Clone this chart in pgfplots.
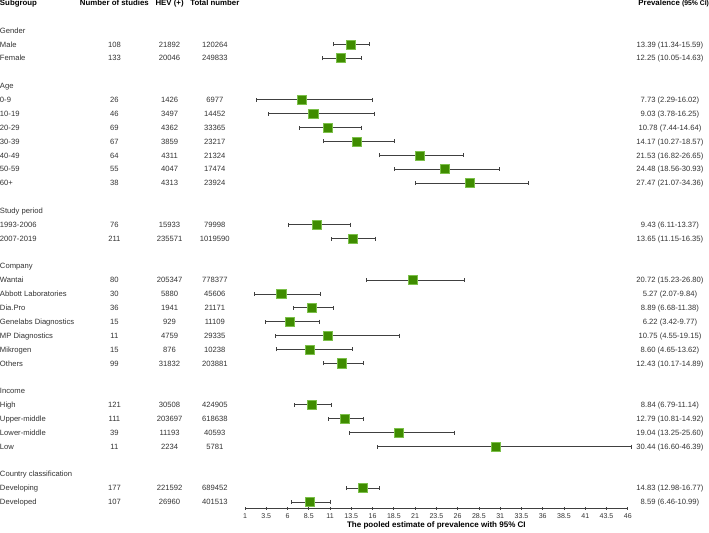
\documentclass[border=0pt]{standalone}
\usepackage{fontspec}
\setmainfont{Liberation Sans}
\usepackage{pgfplots}
\pgfplotsset{compat=1.18}
\usepackage{pgfplotstable}

\definecolor{sqfill}{HTML}{3F8C00}
\definecolor{sqedge}{HTML}{7CC04A}
\definecolor{txt}{HTML}{333333}
\definecolor{bar}{HTML}{404040}
\newcommand\tf{\fontsize{7.6}{9}\selectfont}

% group headings
\pgfplotstableread{
row name
2 Gender
6 Age
15 {Study period}
19 Company
28 Income
34 {Country classification}
}\groups

% subgroups: studies, HEV(+), total, prevalence and 95% CI
\pgfplotstableread{
row name n hev total est lo hi ci
3 Male 108 21892 120264 13.39 11.34 15.59 {13.39 (11.34-15.59)}
4 Female 133 20046 249833 12.25 10.05 14.63 {12.25 (10.05-14.63)}
7 0-9 26 1426 6977 7.73 2.29 16.02 {7.73 (2.29-16.02)}
8 10-19 46 3497 14452 9.03 3.78 16.25 {9.03 (3.78-16.25)}
9 20-29 69 4362 33365 10.78 7.44 14.64 {10.78 (7.44-14.64)}
10 30-39 67 3859 23217 14.17 10.27 18.57 {14.17 (10.27-18.57)}
11 40-49 64 4311 21324 21.53 16.82 26.65 {21.53 (16.82-26.65)}
12 50-59 55 4047 17474 24.48 18.56 30.93 {24.48 (18.56-30.93)}
13 60+ 38 4313 23924 27.47 21.07 34.36 {27.47 (21.07-34.36)}
16 1993-2006 76 15933 79998 9.43 6.11 13.37 {9.43 (6.11-13.37)}
17 2007-2019 211 235571 1019590 13.65 11.15 16.35 {13.65 (11.15-16.35)}
20 Wantai 80 205347 778377 20.72 15.23 26.80 {20.72 (15.23-26.80)}
21 {Abbott Laboratories} 30 5880 45606 5.27 2.07 9.84 {5.27 (2.07-9.84)}
22 Dia.Pro 36 1941 21171 8.89 6.68 11.38 {8.89 (6.68-11.38)}
23 {Genelabs Diagnostics} 15 929 11109 6.22 3.42 9.77 {6.22 (3.42-9.77)}
24 {MP Diagnostics} 11 4759 29335 10.75 4.55 19.15 {10.75 (4.55-19.15)}
25 Mikrogen 15 876 10238 8.60 4.65 13.62 {8.60 (4.65-13.62)}
26 Others 99 31832 203881 12.43 10.17 14.89 {12.43 (10.17-14.89)}
29 High 121 30508 424905 8.84 6.79 11.14 {8.84 (6.79-11.14)}
30 Upper-middle 111 203697 618638 12.79 10.81 14.92 {12.79 (10.81-14.92)}
31 Lower-middle 39 11193 40593 19.04 13.25 25.60 {19.04 (13.25-25.60)}
32 Low 11 2234 5781 30.44 16.60 46.39 {30.44 (16.60-46.39)}
35 Developing 177 221592 689452 14.83 12.98 16.77 {14.83 (12.98-16.77)}
36 Developed 107 26960 401513 8.59 6.46 10.99 {8.59 (6.46-10.99)}
}\subgroups

\pgfplotsset{
  txtcol/.style={only marks, mark=none, point meta=explicit symbolic,
    nodes near coords,
    every node near coord/.append style={font=\tf, text=txt, anchor=#1,
      inner sep=0pt, text height=5.4pt, text depth=0pt}},
}

\begin{document}
\begin{tikzpicture}
\begin{axis}[
  scale only axis, width=381pt, height=503pt,
  xmin=1, xmax=46, ymin=0, ymax=36.45, y dir=reverse,
  clip=false, hide y axis, axis x line*=bottom,
  x axis line style={draw=bar, line width=0.8pt, -},
  xtick={1,3.5,6,8.5,11,13.5,16,18.5,21,23.5,26,28.5,31,33.5,36,38.5,41,43.5,46},
  tick align=center, major tick length=3pt,
  every tick/.style={draw=bar, line width=0.8pt},
  tick label style={font=\fontsize{7}{8}\selectfont, text=txt},
  /pgf/number format/assume math mode=true,
  xlabel={The pooled estimate of prevalence with 95\% CI},
  xlabel style={font=\fontsize{8}{9}\selectfont\bfseries, yshift=3pt},
]
% confidence intervals
\addplot[only marks, mark=none, color=bar,
  error bars/.cd, x dir=both, x explicit, error mark=|,
  error bar style={line width=0.9pt, bar},
  error mark options={line width=0.8pt, bar, mark size=2pt}]
  table[x=est, y=row,
    x error plus expr=\thisrow{hi}-\thisrow{est},
    x error minus expr=\thisrow{est}-\thisrow{lo}] {\subgroups};
% point estimates
\addplot[only marks, mark=square*, mark size=4.5pt,
  mark options={fill=sqfill, draw=sqedge, line width=0.6pt}]
  table[x=est, y=row] {\subgroups};

% text columns
\addplot[txtcol=west] table[x expr=-27.82, y=row, meta=name] {\groups};
\addplot[txtcol=west] table[x expr=-27.82, y=row, meta=name] {\subgroups};
\addplot[txtcol=center] table[x expr=-14.35, y=row, meta=n] {\subgroups};
\addplot[txtcol=center] table[x expr=-7.86, y=row, meta=hev] {\subgroups};
\addplot[txtcol=center] table[x expr=-2.54, y=row, meta=total] {\subgroups};
\addplot[txtcol=center] table[x expr=50.96, y=row, meta=ci] {\subgroups};

% header row
\begin{scope}[every node/.style={font=\fontsize{7.8}{9}\selectfont\bfseries,
    inner sep=0pt, text height=5.6pt, text depth=0pt}]
\node[anchor=west] at (axis cs:-27.82,0) {Subgroup};
\node at (axis cs:-14.35,0) {Number of studies};
\node at (axis cs:-7.86,0) {HEV (+)};
\node at (axis cs:-2.54,0) {Total number};
\node[anchor=east] at (axis cs:55.57,0) {Prevalence {\fontsize{6.8}{8}\selectfont(95\% CI)}};
\end{scope}
\end{axis}
\end{tikzpicture}
\end{document}
